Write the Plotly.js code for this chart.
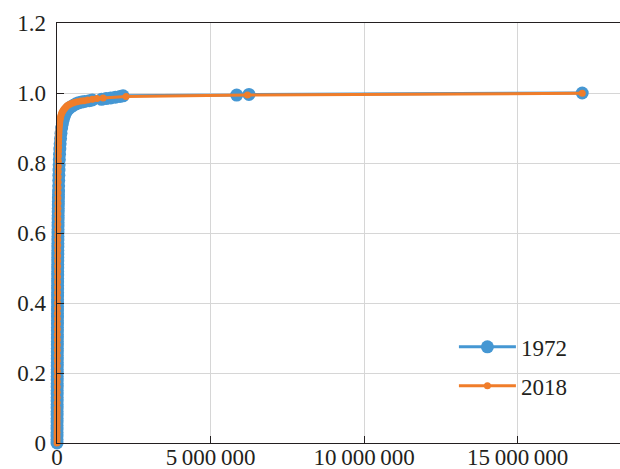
<!DOCTYPE html>
<html>
<head>
<meta charset="utf-8">
<script src="https://cdn.plot.ly/plotly-3.0.1.min.js"></script>
<style>html,body{margin:0;padding:0;background:#fff;}#chart{width:620px;height:469px;}</style>
</head>
<body>
<div id="chart"></div>
<script>
// 1972 series
const x1972 = [0, 400, 800, 1200, 1600, 2000, 2400, 2800, 3200, 3600, 4000, 4400, 4800, 5200, 5600, 6000, 6400, 6800, 7200, 7600, 8000, 8400, 8800, 9200, 9600, 10000, 10500, 11000, 11500, 12000, 12500, 13000, 13500, 14000, 14500, 15000, 15500, 16000, 16500, 17000, 17500, 18000, 18500, 19000, 19500, 20000, 20600, 21200, 21800, 22400, 23000, 23700, 24400, 25200, 26000, 26800, 27700, 28600, 29600, 30600, 31700, 32800, 34000, 35300, 36600, 38000, 39500, 41000, 42700, 44500, 46500, 48700, 51000, 54000, 57000, 61000, 65000, 70000, 76000, 83000, 92000, 102000, 115000, 130000, 150000, 175000, 205000, 240000, 280000, 330000, 390000, 460000, 540000, 620000, 700000, 800000, 900000, 1050000, 1150000, 1450000, 1600000, 1750000, 1900000, 2050000, 2150000, 5850000, 6250000, 17100000];
const y1972 = [0, 0.01, 0.02, 0.03, 0.04, 0.05, 0.06, 0.07, 0.08, 0.09, 0.1, 0.11, 0.12, 0.13, 0.14, 0.15, 0.16, 0.17, 0.18, 0.19, 0.2, 0.21, 0.22, 0.23, 0.24, 0.25, 0.26, 0.27, 0.28, 0.29, 0.3, 0.31, 0.32, 0.33, 0.34, 0.35, 0.36, 0.37, 0.38, 0.39, 0.4, 0.41, 0.42, 0.43, 0.44, 0.45, 0.46, 0.47, 0.48, 0.49, 0.5, 0.51, 0.52, 0.53, 0.54, 0.55, 0.56, 0.57, 0.58, 0.59, 0.6, 0.61, 0.62, 0.63, 0.64, 0.65, 0.66, 0.67, 0.68, 0.69, 0.7, 0.71, 0.72, 0.735, 0.75, 0.765, 0.78, 0.795, 0.81, 0.825, 0.84, 0.855, 0.87, 0.885, 0.9, 0.912, 0.924, 0.934, 0.943, 0.95, 0.956, 0.961, 0.965, 0.969, 0.972, 0.974, 0.976, 0.978, 0.98, 0.982, 0.984, 0.986, 0.988, 0.99, 0.992, 0.994, 0.996, 1.0];
// 2018 series
const x2018 = [0, 500, 1000, 1500, 2000, 2500, 3000, 3500, 4000, 4500, 5000, 5500, 6000, 6500, 7000, 7500, 8000, 8500, 9000, 9500, 10000, 10500, 11000, 11500, 12000, 12500, 13000, 13500, 14000, 14500, 15000, 15600, 16200, 16800, 17400, 18000, 18700, 19400, 20100, 20800, 21500, 22300, 23100, 24000, 25000, 26000, 27000, 28000, 29200, 30400, 31700, 33000, 34500, 36000, 37600, 39300, 41000, 43000, 45000, 47500, 50000, 53000, 56000, 60000, 64000, 69000, 75000, 82000, 90000, 100000, 112000, 126000, 143000, 163000, 187000, 215000, 250000, 290000, 340000, 400000, 470000, 560000, 660000, 780000, 880000, 1000000, 1150000, 1300000, 1500000, 2250000, 6200000, 17100000];
const y2018 = [0, 0.01, 0.02, 0.03, 0.04, 0.05, 0.06, 0.07, 0.08, 0.09, 0.1, 0.115, 0.13, 0.145, 0.16, 0.175, 0.19, 0.205, 0.22, 0.235, 0.25, 0.265, 0.28, 0.295, 0.31, 0.325, 0.34, 0.355, 0.37, 0.385, 0.4, 0.415, 0.43, 0.445, 0.46, 0.475, 0.49, 0.505, 0.52, 0.535, 0.55, 0.565, 0.58, 0.595, 0.61, 0.625, 0.64, 0.655, 0.67, 0.685, 0.7, 0.715, 0.73, 0.745, 0.76, 0.775, 0.79, 0.805, 0.82, 0.833, 0.845, 0.857, 0.868, 0.878, 0.887, 0.896, 0.904, 0.911, 0.918, 0.924, 0.93, 0.935, 0.94, 0.944, 0.948, 0.952, 0.956, 0.96, 0.964, 0.967, 0.97, 0.973, 0.975, 0.977, 0.978, 0.98, 0.982, 0.984, 0.986, 0.99, 0.994, 0.999];
// tick labels
const xTickVals = [0, 5000000, 10000000, 15000000];
const xTickText = ["0", "5\u2009000\u2009000", "10\u2009000\u2009000", "15\u2009000\u2009000"];
const yTickVals = [0, 0.2, 0.4, 0.6, 0.8, 1.0, 1.2];
const yTickText = ["0", "0.2", "0.4", "0.6", "0.8", "1.0", "1.2"];
const seriesNames = ["1972", "2018"];

const blue = "#4597d3";
const orange = "#f07d2a";
const fontFam = "Liberation Serif";

const traces = [
  {x: x1972, y: y1972, name: seriesNames[0], legendgroup: "a", mode: "lines+markers", type: "scatter",
   line: {color: blue, width: 3}, marker: {color: blue, size: 13}, cliponaxis: false},
  {x: x2018, y: y2018, name: seriesNames[1], legendgroup: "b", mode: "lines+markers", type: "scatter",
   line: {color: orange, width: 3}, marker: {color: orange, size: 7}, cliponaxis: false}
];

const layout = {
  width: 620, height: 469,
  margin: {l: 57, r: 0, t: 23, b: 26, pad: 0},
  paper_bgcolor: "#fff", plot_bgcolor: "#fff",
  font: {family: fontFam, size: 23, color: "#231f20"},
  showlegend: true,
  legend: {x: 0.705, y: 0.28, xanchor: "left", yanchor: "top", bgcolor: "rgba(0,0,0,0)",
           font: {family: fontFam, size: 23}, itemwidth: 57, tracegroupgap: 6},
  xaxis: {range: [0, 18330000], tickvals: xTickVals, ticktext: xTickText,
          showgrid: true, gridcolor: "#d6d6d6", gridwidth: 1, zeroline: false,
          showline: true, linecolor: "#231f20", linewidth: 1.3, mirror: true,
          ticks: "inside", ticklen: 7, tickcolor: "#231f20", tickwidth: 1,
          ticklabelstandoff: -7,
          tickfont: {family: fontFam, size: 23}},
  yaxis: {range: [0, 1.2], tickvals: yTickVals, ticktext: yTickText,
          showgrid: true, gridcolor: "#d6d6d6", gridwidth: 1, zeroline: false,
          showline: true, linecolor: "#231f20", linewidth: 1.3,
          ticks: "inside", ticklen: 7, tickcolor: "#231f20", tickwidth: 1,
          ticklabelstandoff: 5,
          tickfont: {family: fontFam, size: 23}}
};

Plotly.newPlot("chart", traces, layout, {displayModeBar: false, staticPlot: true});
</script>
</body>
</html>
